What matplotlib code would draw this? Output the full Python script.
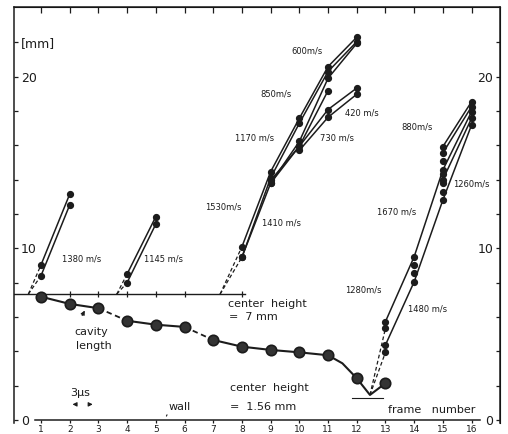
import matplotlib
matplotlib.use("Agg")
import matplotlib.pyplot as plt

INK = "#1c1c1c"

# lower curve: cavity length (mm) per frame
frames = [1, 2, 3, 4, 5, 6, 7, 8, 9, 10, 11, 12, 13]
cavity = [7.18, 6.76, 6.51, 5.78, 5.55, 5.42, 4.66, 4.27, 4.08, 3.94, 3.77, 2.43, 2.14]
bend = (11.5, 3.30)        # point read on the bend between frame 11 and 12
tip = (12.46, 1.46)        # where the cavity touches down

# reference line "center height = 7 mm" and where the tracks leave it
baseline = 7.33
base_ticks = [2, 3, 4, 5, 6, 8]
starts = [0.56, 3.64, 7.24]

# tracks, frames and heights in mm
a_frames = [1, 2]
a1 = [9.03, 13.15]
a2 = [8.40, 12.52]

b_frames = [4, 5]
b1 = [8.50, 11.84]
b2 = [8.00, 11.41]

c1 = ([8, 9, 10, 11, 12], [10.09, 14.46, 17.57, 20.58, 22.29])
c2 = ([8, 9, 10, 11, 12], [9.48, 14.10, 17.28, 20.29, 22.03])
c3 = ([8, 9, 10, 11, 12], [9.48, 13.79, 16.22, 19.90, 21.93])
c4 = ([9, 10, 11], [13.95, 15.94, 19.18])
c5 = ([9, 10, 11, 12], [13.79, 15.94, 18.08, 19.33])
c6 = ([10, 11, 12], [15.70, 17.63, 18.97])

d1 = ([13, 14, 15, 16], [5.73, 9.51, 14.56, 17.96])
d2 = ([13, 14, 15, 16], [4.37, 8.05, 12.81, 17.18])
d3 = ([15, 16], [15.92, 18.54])
d4 = ([15, 16], [15.55, 18.25])
d5 = ([15, 16], [14.00, 17.57])
d_extra_f = [13, 13, 14, 14, 15, 15, 15, 15]
d_extra_y = [5.34, 3.94, 9.03, 8.56, 15.08, 14.30, 13.80, 13.30]

vel_labels = ["1380 m/s", "1145 m/s", "1530m/s", "1410 m/s", "1170 m/s",
              "850m/s", "600m/s", "420 m/s", "730 m/s", "880m/s",
              "1260m/s", "1670 m/s", "1280m/s", "1480 m/s"]
vel_x = [1.72, 4.60, 6.71, 8.69, 7.76, 8.63, 9.73, 11.59, 10.72, 13.57,
         15.36, 12.70, 11.59, 13.79]
vel_y = [9.36, 9.36, 12.42, 11.46, 16.40, 18.97, 21.50, 17.86, 16.40, 17.08,
         13.73, 12.13, 7.57, 6.45]

left_ticks = [0, 2, 4, 6, 8, 10, 12, 14, 16, 18, 20, 22]
left_labels = ["0", "", "", "", "", "10", "", "", "", "", "20", "[mm]"]
right_labels = ["0", "", "", "", "", "10", "", "", "", "", "20", ""]
frame_ticks = list(range(1, 17))

fig = plt.figure(figsize=(5.08, 4.34), dpi=100)
ax = fig.add_axes([14 / 508, 1 - 423 / 434, 486 / 508, 416 / 434])
ax.set_xlim(0.06, 16.99)
ax.set_ylim(-0.175, 24.05)

solid = dict(color=INK, lw=1.1, solid_capstyle="round")
dashed = dict(color=INK, lw=0.9, ls=(0, (3, 2)))
dot = dict(color=INK, ls="none", marker="o", ms=4.2)


def track(fr, mm):
    ax.plot(fr, mm, **solid)
    ax.plot(fr, mm, **dot)


# center height 7 mm line
ax.plot([0.06, 8.1], [baseline, baseline], color=INK, lw=1.0)
ax.plot(base_ticks, [baseline] * len(base_ticks), ls="none", marker="|",
        ms=5, color=INK, mew=0.9)

# first two groups
for mm in (a1, a2):
    ax.plot([starts[0], a_frames[0]], [baseline, mm[0]], **dashed)
    track(a_frames, mm)
for mm in (b1, b2):
    ax.plot([starts[1], b_frames[0]], [baseline, mm[0]], **dashed)
    track(b_frames, mm)

# group from frame 8 to 12
for y0 in (c1[1][0], c2[1][0]):
    ax.plot([starts[2], 8], [baseline, y0], **dashed)
for fr, mm in (c1, c2, c3, c4, c5, c6):
    track(fr, mm)

# group from frame 13 to 16
for y0 in (5.34, 3.94):
    ax.plot([tip[0], 13], [tip[1], y0], **dashed)
for fr, mm in (d1, d2, d3, d4, d5):
    track(fr, mm)
ax.plot(d_extra_f, d_extra_y, **dot)

# cavity length curve
big = dict(color=INK, ls="none", marker="o", ms=7.5, mfc="#333333", mec=INK, mew=1.2)
ax.plot(frames[0:3], cavity[0:3], color=INK, lw=1.5)
ax.plot(frames[2:4], cavity[2:4], color=INK, lw=1.3, ls=(0, (3, 2)))
ax.plot(frames[3:6], cavity[3:6], color=INK, lw=1.5)
ax.plot(frames[5:7], cavity[5:7], color=INK, lw=1.3, ls=(0, (3, 2)))
ax.plot(frames[6:11] + [bend[0], frames[11], tip[0], frames[12]],
        cavity[6:11] + [bend[1], cavity[11], tip[1], cavity[12]],
        color=INK, lw=1.5)
ax.plot(frames, cavity, **big)

# short wall mark under the tip
ax.plot([11.83, 12.92], [1.30, 1.30], color=INK, lw=0.8)

# texts
for s, x, y in zip(vel_labels, vel_x, vel_y):
    ax.text(x, y, s, fontsize=6, color=INK, ha="left", va="center")

big_txt = dict(fontsize=8, color=INK, ha="left", va="center")
ax.text(7.52, 6.74, "center  height", **big_txt)
ax.text(7.55, 5.98, "=  7 mm", **big_txt)
ax.text(7.58, 1.85, "center  height", **big_txt)
ax.text(7.58, 0.78, "=  1.56 mm", **big_txt)
ax.text(13.1, 0.58, "frame   number", **big_txt)
ax.text(2.15, 5.14, "cavity", **big_txt)
ax.text(2.22, 4.31, "length", **big_txt)
ax.text(2.01, 1.55, "3\u03bcs", **big_txt)
ax.text(5.43, 0.76, "wall", **big_txt)

arr = dict(arrowstyle="-|>", color=INK, lw=0.8, mutation_scale=6)
ax.annotate("", xy=(2.57, 6.52), xytext=(2.39, 5.94), arrowprops=arr)
ax.annotate("", xy=(5.33, 0.08), xytext=(5.43, 0.45),
            arrowprops=dict(arrowstyle="-", color=INK, lw=0.8))
ax.annotate("", xy=(2.0, 0.91), xytext=(2.3, 0.91), arrowprops=arr)
ax.annotate("", xy=(2.9, 0.91), xytext=(2.6, 0.91), arrowprops=arr)

# axes: frame axis at the wall, inward ticks on the frame box
for side in ("left", "right", "top"):
    ax.spines[side].set_color(INK)
    ax.spines[side].set_linewidth(1.1)
ax.spines["bottom"].set_position(("data", 0))
ax.spines["bottom"].set_bounds(0.79, 16.3)
ax.spines["bottom"].set_color(INK)
ax.spines["bottom"].set_linewidth(1.1)

ax.set_xticks(frame_ticks)
ax.set_xticklabels([str(f) for f in frame_ticks])
ax.tick_params(axis="x", direction="out", length=2.5, width=0.9, pad=0.8,
               labelsize=6.5, colors=INK)

ax.set_yticks(left_ticks)
ax.set_yticklabels(left_labels)
ax.tick_params(axis="y", direction="in", length=3, width=0.9, pad=-5,
               labelsize=9, colors=INK)
for t in ax.get_yticklabels():
    t.set_horizontalalignment("left")

top = ax.secondary_xaxis("top")
top.set_xticks(frame_ticks)
top.tick_params(direction="in", length=4, width=0.9, labeltop=False, colors=INK)

right = ax.secondary_yaxis("right")
right.set_yticks(left_ticks)
right.set_yticklabels(right_labels)
right.tick_params(direction="in", length=3, width=0.9, pad=-5,
                  labelsize=9, colors=INK)
for t in right.get_yticklabels():
    t.set_horizontalalignment("right")

fig.savefig("out.png", dpi=100, facecolor="white")
